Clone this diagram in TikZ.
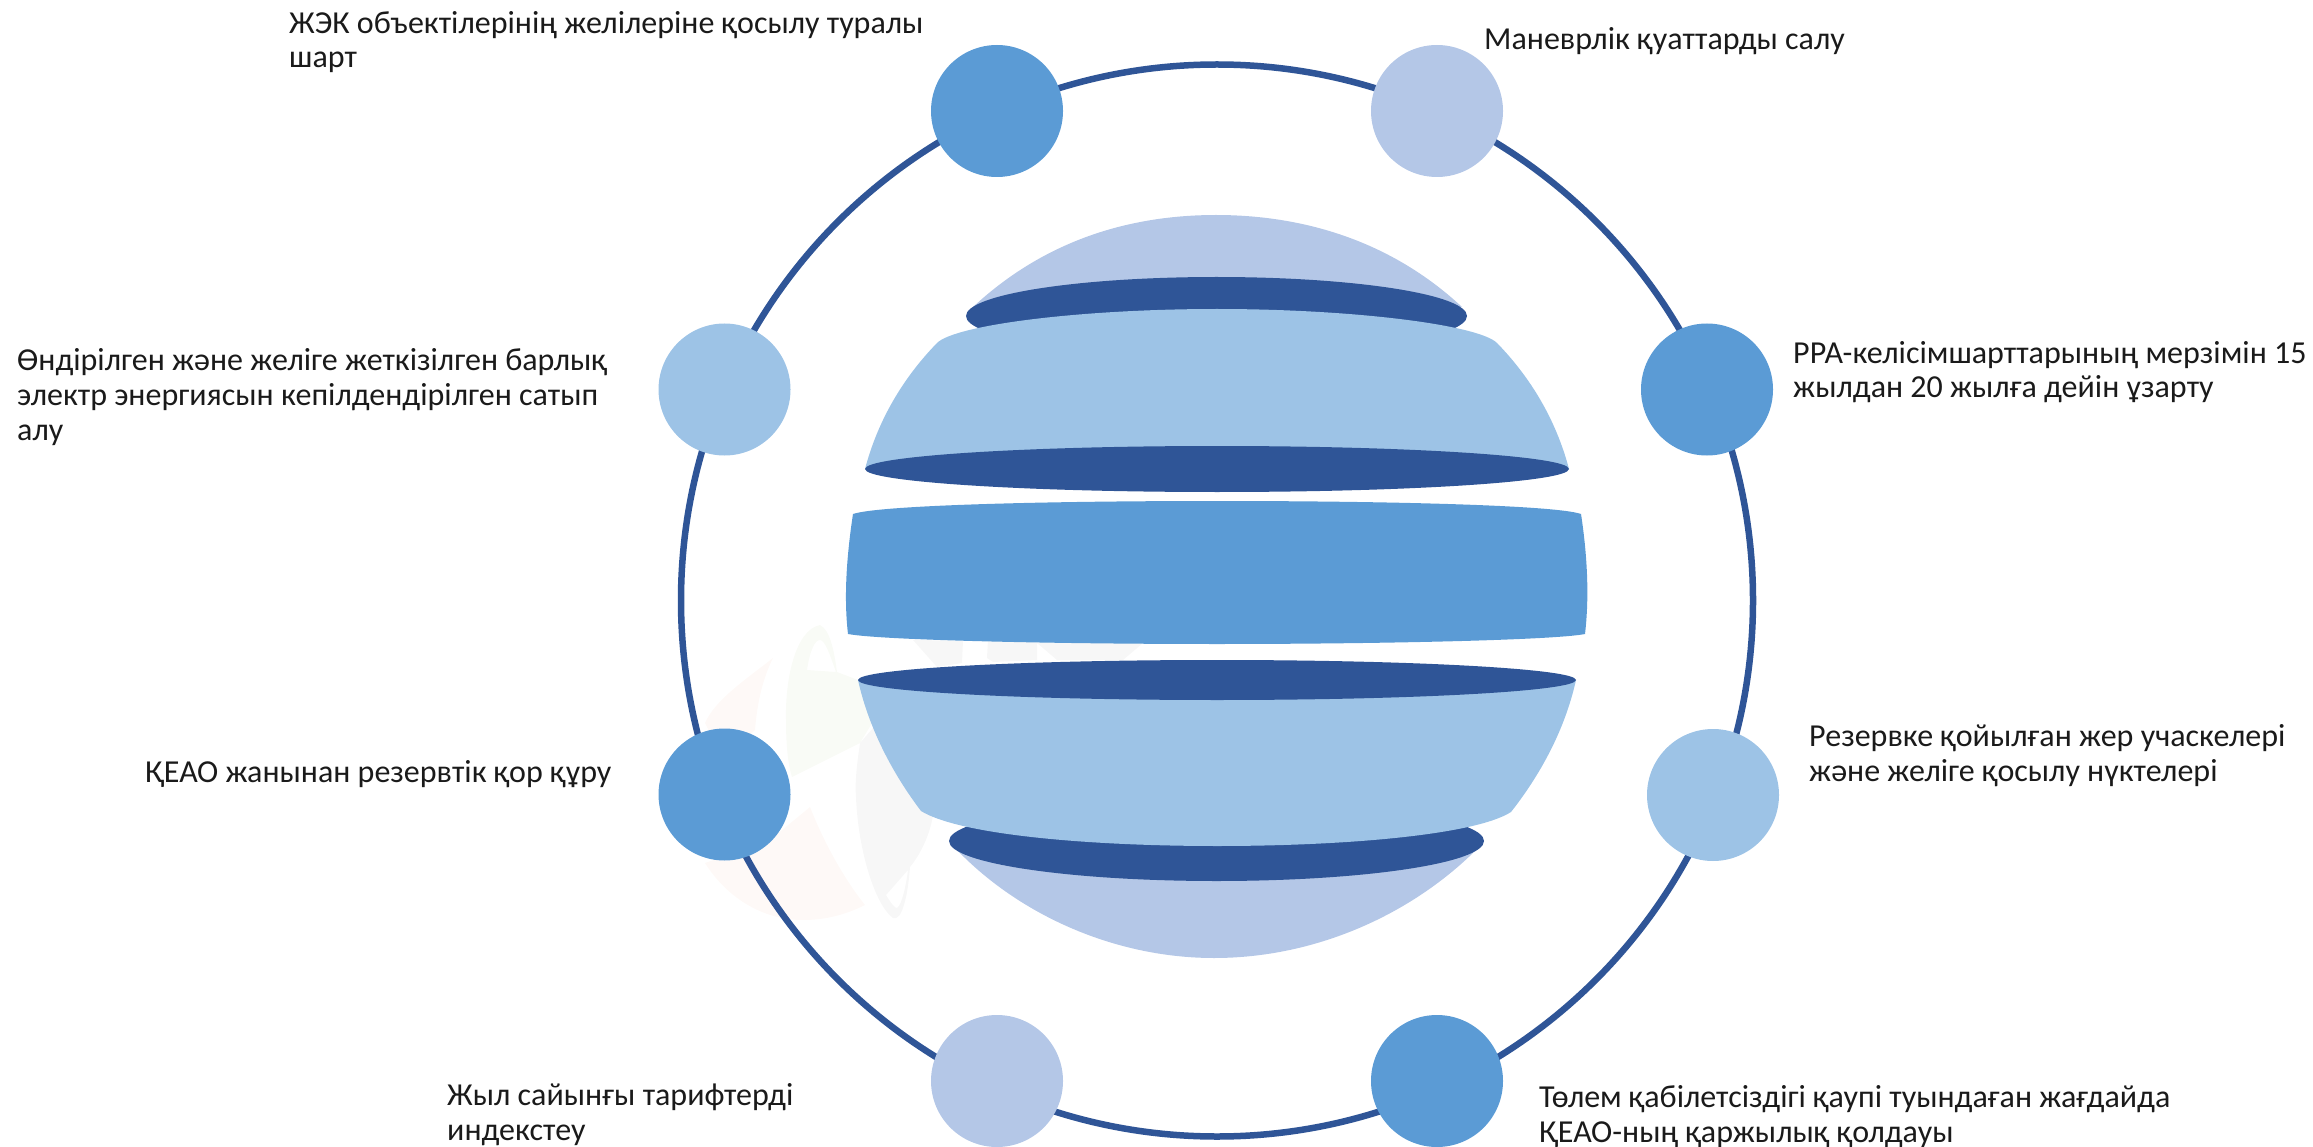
\documentclass[tikz,border=0pt]{standalone}
\usepackage{fontspec}
\setmainfont{Carlito}
\definecolor{ringblue}{HTML}{2F5597}
\definecolor{midblue}{HTML}{5B9BD5}
\definecolor{skyblue}{HTML}{9DC3E6}
\definecolor{lilac}{HTML}{B4C7E7}
\definecolor{wmpink}{HTML}{FEF9F7}
\definecolor{wmgreen}{HTML}{F9FBF6}
\definecolor{wmgray}{HTML}{F7F7F7}
\definecolor{inktext}{HTML}{1A1A1A}
\tikzset{
  dot/.style={circle,minimum size=132pt,inner sep=0pt,draw=none},
  label/.style={anchor=base west,inner sep=0pt,text=inktext,font=\fontsize{32}{34.8}\selectfont,align=left},
}
\begin{document}
\begin{tikzpicture}[x=1pt,y=-1pt]
\useasboundingbox (0,0) rectangle (2313,1147);
% faint watermark
\fill[wmpink] (773,658) .. controls (745,680) and (715,700) .. (705,723) -- (724,760) -- (755,730) .. controls (757,705) and (762,680) .. (773,658) -- cycle;
\fill[wmpink] (810,807) .. controls (825,845) and (845,880) .. (865,905) .. controls (845,915) and (825,920) .. (803,920) .. controls (760,920) and (725,895) .. (705,863) -- (770,840) -- cycle;
\fill[wmgreen,even odd rule] (820,625) .. controls (795,630) and (785,680) .. (786,720) .. controls (786,745) and (788,765) .. (792,777) -- (860,743) -- (880,710) -- (858,680) -- (837,672) .. controls (834,650) and (830,630) .. (820,625) -- cycle
 (807,670) .. controls (810,650) and (815,640) .. (820,640) .. controls (825,640) and (830,655) .. (836,672) -- cycle;
\fill[wmgray,even odd rule] (860,743) .. controls (856,770) and (855,785) .. (856,797) .. controls (858,850) and (875,905) .. (893,918) .. controls (902,922) and (908,895) .. (910,867) .. controls (920,855) and (930,835) .. (933,815) -- (880,720) -- cycle
 (886,895) .. controls (892,905) and (895,908) .. (897,908) .. controls (902,905) and (906,885) .. (908,870) -- cycle;
\fill[wmgray] (913,640) -- (937,667) -- (962,663) -- (963,640) -- (988,640) -- (987,658) -- (993,662) -- (1037,660) -- (1037,643) -- (1057,660) -- (1123,660) -- (1143,643) -- cycle;
% ring
\node[circle,draw=ringblue,line width=6.5pt,minimum size=1072pt,inner sep=0pt] (ring) at (1217,600.5) {};
% top cap
\fill[lilac] (973,307) .. controls (1045,240) and (1130,215) .. (1216,215) .. controls (1302,215) and (1390,240) .. (1462,307) -- cycle;
\fill[ringblue] (1216.5,316) ellipse [x radius=250.5,y radius=39];
% upper band
\fill[skyblue] (937,343) .. controls (955,325) and (1080,309) .. (1217,309) .. controls (1354,309) and (1479,325) .. (1497,343) .. controls (1531,378) and (1556,420) .. (1569,469) -- (865,469) .. controls (878,420) and (903,378) .. (937,343) -- cycle;
\fill[ringblue] (1217,469) ellipse [x radius=352,y radius=23];
% middle band
\fill[midblue] (853,514) .. controls (880,505) and (1050,501) .. (1217,501) .. controls (1384,501) and (1555,505) .. (1581,514) .. controls (1588,560) and (1589,600) .. (1585,634) .. controls (1555,640) and (1384,644) .. (1217,644) .. controls (1050,644) and (880,640) .. (848,634) .. controls (844,600) and (846,560) .. (853,514) -- cycle;
% lower cap
\fill[lilac] (958,851) .. controls (1020,915) and (1115,958) .. (1214,958) .. controls (1315,958) and (1410,915) .. (1475,851) -- cycle;
\fill[ringblue] (1216.5,841) ellipse [x radius=267.5,y radius=40];
% lower band
\fill[skyblue] (858,680) -- (1576,680) .. controls (1566,725) and (1544,770) .. (1511,812) .. controls (1475,835) and (1345,846) .. (1217,846) .. controls (1090,846) and (960,835) .. (921,811) .. controls (890,770) and (868,725) .. (858,680) -- cycle;
\fill[ringblue] (1217,680) ellipse [x radius=359,y radius=20];
% small circles
\node[dot,fill=midblue] (c1) at (997,111) {};
\node[dot,fill=lilac] (c2) at (1437,111) {};
\node[dot,fill=midblue] (c3) at (1707,389.5) {};
\node[dot,fill=skyblue] (c4) at (1713,795) {};
\node[dot,fill=midblue] (c5) at (1437,1081) {};
\node[dot,fill=lilac] (c6) at (997,1081) {};
\node[dot,fill=midblue] (c7) at (724.5,794.5) {};
\node[dot,fill=skyblue] (c8) at (724.5,389.5) {};
% labels (anchored at the baseline of the last line)
\node[label] (t1) at (289,68) {ЖЭК объектілерінің желілеріне қосылу туралы\\шарт};
\node[label] (t2) at (1484,50) {Маневрлік қуаттарды салу};
\node[label] (t3) at (1793,398) {РРА-келісімшарттарының мерзімін 15\\жылдан 20 жылға дейін ұзарту};
\node[label] (t4) at (1809,781) {Резервке қойылған жер учаскелері\\және желіге қосылу нүктелері};
\node[label] (t5) at (1539,1142) {Төлем қабілетсіздігі қаупі туындаған жағдайда\\ҚЕАО-ның қаржылық қолдауы};
\node[label] (t6) at (447,1140) {Жыл сайынғы тарифтерді\\индекстеу};
\node[label] (t7) at (145,782) {ҚЕАО жанынан резервтік қор құру};
\node[label] (t8) at (17,440) {Өндірілген және желіге жеткізілген барлық\\электр энергиясын кепілдендірілген сатып\\алу};
\end{tikzpicture}
\end{document}
